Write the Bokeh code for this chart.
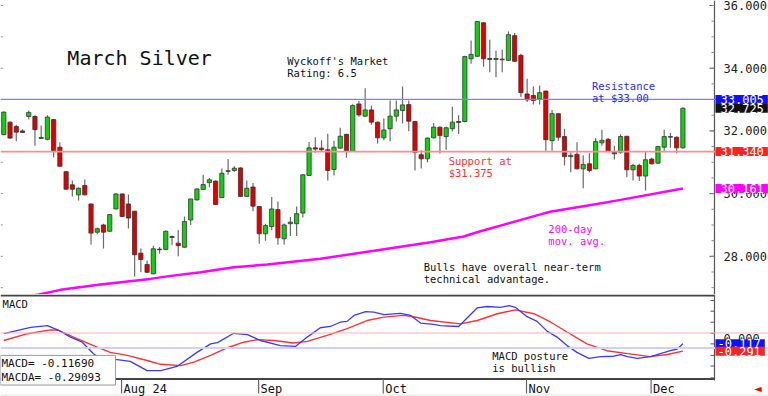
from bokeh.plotting import figure
from bokeh.layouts import column
from bokeh.models import Range1d, Span, Label, ColumnDataSource
from bokeh.core.properties import value
from bokeh.embed import file_html
from bokeh.resources import INLINE

FONT = "DejaVu Sans Mono"

# ---------------- data ----------------
opens = [31.88, 32.28, 32.14, 32.00, 32.46, 32.46, 31.76, 31.73, 32.36, 31.48,
         30.70, 30.28, 29.96, 30.26, 29.67, 28.77, 29.00, 28.80, 29.51, 29.99,
         29.67, 29.44, 28.10, 27.74, 27.44, 28.23, 28.22, 28.60, 28.42, 28.29,
         29.16, 29.80, 30.13, 30.35, 30.40, 29.87, 30.73, 30.74, 30.82, 29.91,
         30.21, 29.59, 28.72, 28.95, 29.49, 28.56, 29.04, 29.04, 29.38, 30.58,
         31.46, 31.45, 31.40, 30.77, 31.45, 31.89, 31.35, 32.86, 32.47, 32.67,
         32.28, 31.78, 32.07, 32.47, 32.65, 32.84, 32.30, 31.24, 31.11, 31.78,
         32.12, 31.82, 32.07, 32.30, 32.30, 34.30, 34.38, 35.45, 34.31, 34.28,
         34.27, 34.25, 35.04, 34.41, 33.18, 33.13, 33.02, 33.27, 31.69, 32.55,
         31.82, 31.18, 31.25, 30.79, 30.95, 30.79, 31.62, 31.73, 31.34, 31.32,
         31.83, 30.76, 30.90, 30.56, 31.10, 30.97, 31.48, 31.80, 31.80, 31.46]
highs = [32.62, 32.30, 32.20, 32.05, 32.65, 32.50, 32.17, 32.50, 32.38, 31.64,
         30.72, 30.42, 30.20, 30.45, 29.68, 28.92, 29.04, 29.35, 30.01, 30.00,
         29.97, 29.45, 28.25, 27.87, 28.34, 28.30, 28.82, 28.66, 28.83, 29.27,
         29.84, 30.16, 30.60, 30.50, 30.42, 30.80, 31.10, 30.87, 30.84, 30.42,
         30.34, 29.60, 29.04, 29.89, 29.75, 29.05, 29.25, 29.59, 30.62, 31.65,
         31.80, 31.70, 31.91, 31.69, 32.10, 31.91, 32.85, 32.95, 33.36, 32.80,
         32.30, 32.40, 32.97, 32.97, 33.42, 32.97, 32.31, 31.38, 31.80, 32.25,
         32.14, 32.14, 32.77, 32.50, 34.40, 34.88, 35.50, 35.47, 34.91, 34.56,
         34.59, 35.17, 35.12, 34.46, 33.66, 33.42, 33.45, 33.28, 32.67, 32.56,
         32.07, 31.32, 31.64, 31.22, 31.29, 31.77, 32.04, 31.77, 31.53, 31.89,
         31.84, 30.95, 30.95, 31.34, 31.14, 31.53, 32.04, 31.93, 31.82, 32.75]
lows = [31.86, 31.75, 31.67, 31.93, 32.36, 31.53, 31.74, 31.70, 31.16, 30.86,
        30.13, 29.91, 29.78, 29.95, 28.38, 28.70, 28.25, 28.78, 29.50, 29.26,
        28.89, 27.36, 27.49, 27.47, 27.43, 28.08, 28.20, 28.35, 28.00, 28.28,
        29.00, 29.78, 30.12, 30.20, 29.64, 29.86, 30.60, 30.70, 29.90, 29.90,
        29.44, 28.40, 28.50, 28.83, 28.37, 28.37, 28.65, 28.65, 29.24, 30.57,
        31.30, 31.35, 30.42, 30.58, 31.43, 31.14, 31.33, 32.45, 32.45, 32.20,
        31.60, 31.70, 31.67, 32.30, 32.24, 31.99, 30.74, 30.80, 31.00, 31.76,
        31.28, 31.40, 31.98, 31.90, 32.28, 34.14, 34.36, 34.05, 33.87, 33.71,
        33.87, 34.23, 34.20, 33.08, 32.92, 32.84, 32.84, 31.37, 31.37, 31.69,
        30.90, 30.68, 30.78, 30.17, 30.68, 30.78, 31.53, 31.32, 31.09, 31.27,
        30.52, 30.42, 30.40, 30.10, 30.93, 30.95, 31.32, 31.46, 31.29, 31.44]
closes = [32.60, 31.77, 31.96, 31.95, 32.59, 32.04, 31.79, 32.44, 31.37, 30.87,
          30.14, 30.14, 30.17, 29.96, 28.74, 28.88, 28.77, 29.33, 29.99, 29.27,
          29.22, 28.05, 27.90, 27.49, 28.24, 28.21, 28.80, 28.63, 28.34, 29.11,
          29.83, 30.15, 30.29, 30.44, 29.65, 30.65, 30.71, 30.81, 29.91, 30.17,
          29.60, 28.72, 28.98, 29.51, 28.59, 29.00, 29.09, 29.36, 30.60, 31.46,
          31.42, 31.40, 30.74, 31.48, 31.83, 31.35, 32.81, 32.51, 32.67, 32.28,
          31.78, 32.03, 32.47, 32.67, 32.83, 32.31, 31.32, 31.11, 31.77, 32.12,
          31.85, 32.10, 32.28, 32.27, 34.37, 34.44, 35.49, 34.30, 34.28, 34.31,
          34.29, 35.07, 34.22, 33.22, 32.99, 32.97, 33.22, 31.72, 32.55, 31.80,
          31.18, 31.22, 30.79, 30.93, 30.74, 31.66, 31.70, 31.34, 31.27, 31.82,
          30.76, 30.90, 30.56, 31.08, 30.95, 31.50, 31.82, 31.82, 31.46, 32.725]

ma_x = [1, 6.6, 10.1, 16.5, 24.5, 27.2, 32.6, 37.9, 43.3, 51.8, 61.5, 69.5,
        74.8, 77.5, 87.0, 88.7, 96.2, 100.0, 110]
ma_y = [26.62, 26.78, 26.93, 27.10, 27.28, 27.36, 27.49, 27.65, 27.74, 27.92,
        28.21, 28.45, 28.63, 28.80, 29.33, 29.42, 29.67, 29.80, 30.161]

macd_x = [1, 5.3, 8.0, 9.8, 11.7, 13.6, 15.4, 16.5, 19.2, 21.3, 24.0, 26.2, 28.8,
          32.0, 34.2, 35.3, 37.9, 40.1, 42.2, 45.4, 47.8, 49.7, 51.8, 53.4, 55.0,
          56.1, 57.2, 59.1, 60.4, 62.0, 64.7, 66.3, 67.9, 70.0, 71.1, 74.0, 77.0,
          78.6, 80.7, 82.1, 83.1, 85.0, 86.6, 88.2, 89.8, 91.4, 93.0, 94.9, 96.8,
          98.9, 100.0, 101.1, 102.7, 104.8, 106.4, 108.0, 109.1, 110]
macd_y = [0.12, 0.27, 0.31, 0.20, 0.04, -0.08, -0.35, -0.46, -0.49, -0.53, -0.75,
          -0.75, -0.65, -0.32, -0.12, -0.09, 0.13, 0.10, -0.04, -0.16, -0.18, 0.04,
          0.26, 0.29, 0.39, 0.41, 0.55, 0.64, 0.63, 0.57, 0.60, 0.55, 0.37, 0.34,
          0.31, 0.29, 0.73, 0.76, 0.74, 0.78, 0.74, 0.52, 0.41, 0.18, 0.04, -0.16,
          -0.32, -0.46, -0.42, -0.41, -0.37, -0.42, -0.46, -0.42, -0.35, -0.28,
          -0.24, -0.117]
macda_x = [1, 4.8, 8.5, 9.8, 12.2, 15.4, 18.1, 20.8, 24.0, 26.2, 29.4, 31.5, 34.2,
           36.9, 39.5, 41.7, 44.3, 47.5, 49.7, 52.9, 56.1, 59.3, 62.0, 65.2, 66.8,
           69.5, 74.3, 77.0, 80.2, 83.1, 86.1, 88.8, 91.4, 94.6, 97.8, 101.1,
           104.8, 107.5, 110]
macda_y = [-0.04, 0.12, 0.21, 0.20, 0.04, -0.16, -0.32, -0.39, -0.51, -0.60, -0.63,
           -0.55, -0.39, -0.21, -0.08, -0.02, -0.04, -0.10, -0.06, 0.08, 0.24, 0.43,
           0.51, 0.55, 0.52, 0.43, 0.35, 0.43, 0.59, 0.68, 0.59, 0.39, 0.16, -0.12,
           -0.28, -0.35, -0.42, -0.37, -0.291]

resistance = 33.005
support = 31.340
last_price = 32.725
ma_last = 30.161
macd_last = -0.117
macda_last = -0.291
macd_levels = [0.136, -0.216]

month_ticks = [19.9, 41.9, 61.9, 84.9, 104.9]
month_labels = ["Aug 24", "Sep", "Oct", "Nov", "Dec"]

price_ticks = [28, 30, 32, 34, 36]
price_minor = [27.0 + 0.5 * i for i in range(19)]
price_left_ticks = [27, 28, 29, 30, 31, 32, 33, 34, 35, 36]
macd_ticks = [-0.92, -0.64, -0.39, -0.12, 0.13, 0.39, 0.65, 0.90]

# ---------------- geometry (pixels -> data) ----------------
PX = 6.23                     # pixels per bar
X0, X1 = 0.47, 123.74         # x range over the full 768 px width
AXIS_X = 115.07               # right price axis position
TXT_X = 116.52                # where tick labels start
P_LO, P_HI = 26.782, 36.1595  # price panel (294 px)
M_LO, M_HI = -1.3576, 1.0424  # macd panel incl. date strip (102 px)
MPX = 42.5                    # macd px per unit

x_range = Range1d(X0, X1)

# ---------------- price panel ----------------
p = figure(width=768, height=294, frame_width=768, frame_height=294,
           x_range=x_range, y_range=Range1d(P_LO, P_HI), output_backend="svg",
           toolbar_location=None, x_axis_location=None, y_axis_location=None,
           min_border=0, background_fill_color="white")
p.outline_line_color = None
for g in p.grid:
    g.visible = False

p.add_layout(Span(location=resistance, dimension="width", line_color="#8080ff", line_width=1.2))
p.add_layout(Span(location=support, dimension="width", line_color="#ff8c8c", line_width=1.8))

# right axis drawn with glyphs
p.segment(x0=[AXIS_X], y0=[P_LO], x1=[AXIS_X], y1=[P_HI], line_color="#555555", line_width=1.2)
p.segment(x0=[AXIS_X - 5 / PX] * len(price_ticks), y0=price_ticks,
          x1=[AXIS_X] * len(price_ticks), y1=price_ticks, line_color="#555555", line_width=1)
p.segment(x0=[AXIS_X - 3 / PX] * len(price_minor), y0=price_minor,
          x1=[AXIS_X] * len(price_minor), y1=price_minor, line_color="#888888", line_width=1)
p.segment(x0=[X0] * len(price_left_ticks), y0=price_left_ticks,
          x1=[X0 + 2.5 / PX] * len(price_left_ticks), y1=price_left_ticks,
          line_color="#999999", line_width=1)
p.text(x=[TXT_X] * len(price_ticks), y=price_ticks, text=["%.3f" % t for t in price_ticks],
       text_font=value(FONT), text_font_size="12px", text_color="#222222",
       text_baseline="middle", text_align="left")

idx = list(range(1, len(opens) + 1))
src = ColumnDataSource(dict(
    x=idx, o=opens, h=highs, l=lows, c=closes,
    top=[max(o, c) for o, c in zip(opens, closes)],
    bottom=[min(o, c) for o, c in zip(opens, closes)],
    color=["#10d010" if c >= o else "#e00000" for o, c in zip(opens, closes)]))

p.segment(x0="x", y0="l", x1="x", y1="h", line_color="#6a6a6a", line_width=1.2, source=src)
p.vbar(x="x", width=0.68, top="top", bottom="bottom", fill_color="color",
       line_color="#333333", line_width=0.8, source=src)
p.line(ma_x, ma_y, line_color="#ff00ff", line_width=2.5)


def note(fig, x, y, text, size="10.5px", color="#111111", baseline="top"):
    fig.add_layout(Label(x=x, y=y, text=text, text_font=FONT, text_font_size=size,
                         text_color=color, text_baseline=baseline, text_align="left",
                         text_line_height=1.0))


note(p, 11.2, 34.34, "March Silver", size="20px", baseline="middle")
note(p, 46.5, 34.41, "Wyckoff's Market\nRating: 6.5")
note(p, 95.4, 33.63, "Resistance\nat $33.00", color="#2a2aff")
note(p, 72.4, 31.22, "Support at\n$31.375", color="#ff3030")
note(p, 88.4, 29.05, "200-day\nmov. avg.", color="#ff00ff")
note(p, 68.4, 27.84, "Bulls have overall near-term\ntechnical advantage.")


def box(fig, y, text, bg, pad_left=5, fg="white"):
    fig.add_layout(Label(x=AXIS_X, y=y, x_offset=1, text=text, text_font=FONT,
                         text_font_size="12px", text_color=fg, text_baseline="middle",
                         text_align="left", background_fill_color=bg,
                         padding=dict(left=pad_left, right=4, top=0, bottom=0)))


box(p, last_price, "%.3f" % last_price, "#111111")
box(p, resistance, "%.3f" % resistance, "#1010ff")
box(p, support, "%.3f" % support, "#ff2020")
box(p, ma_last, "%.3f" % ma_last, "#ff00ff")

# ---------------- MACD panel (with date strip) ----------------
m = figure(width=768, height=102, frame_width=768, frame_height=102,
           x_range=x_range, y_range=Range1d(M_LO, M_HI), output_backend="svg",
           toolbar_location=None, x_axis_location=None, y_axis_location=None,
           min_border=0)
m.outline_line_color = None
for g in m.grid:
    g.visible = False

SEP_Y = M_HI - 1.0 / MPX        # separator line at top
BASE_Y = -0.946                  # date axis line
TICK_END = BASE_Y - 14.5 / MPX
LABEL_Y = BASE_Y - 2.5 / MPX
FOOT_Y = BASE_Y - 16 / MPX

m.add_layout(Span(location=macd_levels[0], dimension="width", line_color="#ffb4b4", line_width=1.2))
m.add_layout(Span(location=macd_levels[1], dimension="width", line_color="#d0d0ff", line_width=2))

m.segment(x0=[X0], y0=[SEP_Y], x1=[AXIS_X], y1=[SEP_Y], line_color="#444444", line_width=2)
m.segment(x0=[X0], y0=[BASE_Y], x1=[AXIS_X], y1=[BASE_Y], line_color="#444444", line_width=2)
m.segment(x0=[X0], y0=[FOOT_Y], x1=[X1], y1=[FOOT_Y], line_color="#e4e4e4", line_width=1)
m.segment(x0=[AXIS_X], y0=[M_HI], x1=[AXIS_X], y1=[BASE_Y - 1.5 / MPX],
          line_color="#555555", line_width=1.2)
m.segment(x0=[AXIS_X - 4 / PX] * len(macd_ticks), y0=macd_ticks,
          x1=[AXIS_X] * len(macd_ticks), y1=macd_ticks, line_color="#555555", line_width=1)
m.segment(x0=month_ticks, y0=[BASE_Y] * len(month_ticks), x1=month_ticks,
          y1=[TICK_END] * len(month_ticks), line_color="#666666", line_width=1.2)
m.text(x=month_ticks, y=[LABEL_Y] * len(month_ticks), text=month_labels, x_offset=2,
       text_font=value(FONT), text_font_size="12px", text_color="#111111",
       text_baseline="top", text_align="left")

m.line(macda_x, macda_y, line_color="#ff3030", line_width=1.4)
m.line(macd_x, macd_y, line_color="#3a3aff", line_width=1.3)

note(m, 0.8, 0.95, "MACD")
note(m, 79.4, -0.275, "MACD posture\nis bullish")
m.add_layout(Label(x=X0, y=-0.39, text="MACD=   -0.11690\nMACDA=  -0.29093",
                   text_font=FONT, text_font_size="11px", text_color="#111111",
                   text_baseline="top", text_align="left", text_line_height=1.05,
                   background_fill_color="white", border_line_color="#999999",
                   padding=dict(left=1, right=8, top=2, bottom=1)))

m.text(x=[TXT_X], y=[0.0], text=["0.000"], text_font=value(FONT), text_font_size="12px",
       text_color="#222222", text_baseline="middle", text_align="left")
box(m, macd_last, "%.3f" % macd_last, "#1010ff", pad_left=2)
box(m, macda_last, "%.3f" % macda_last, "#ff2020", pad_left=2)

m.text(x=[X1 - 1.7], y=[BASE_Y - 9 / MPX], text=["\u25c4"], text_font=value("DejaVu Sans"),
       text_font_size="10px", text_color="#ff0000", text_baseline="middle", text_align="center")

layout = column(p, m, spacing=0)
open("out.html", "w").write(file_html(layout, INLINE))
